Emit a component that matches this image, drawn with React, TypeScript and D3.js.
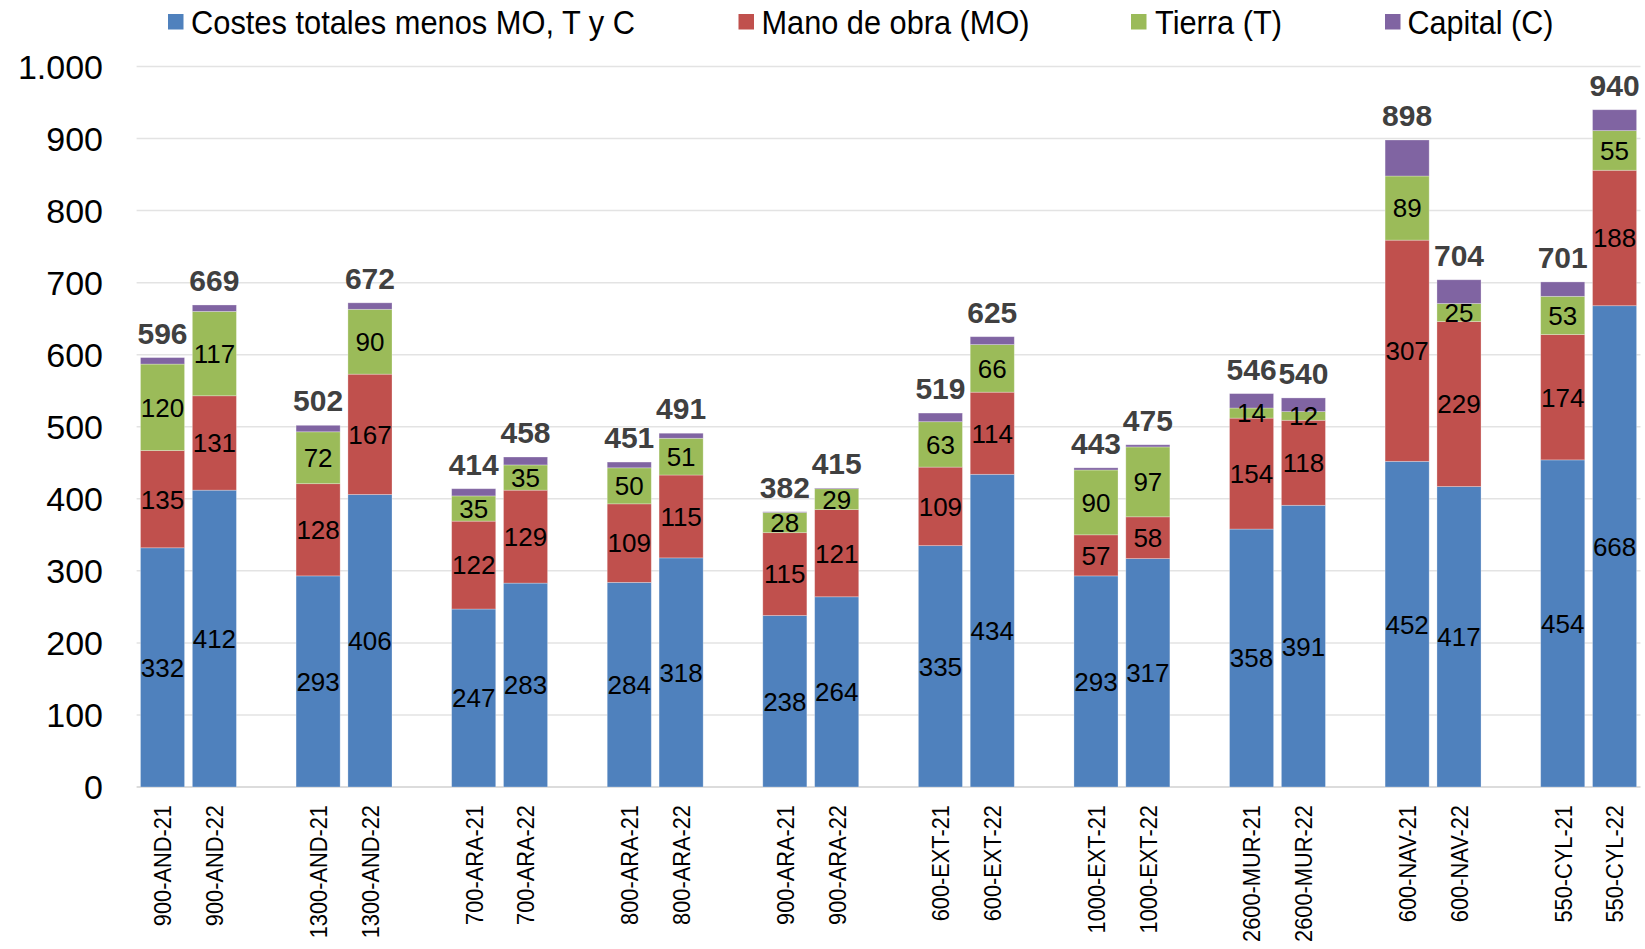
import React from "react";
import * as d3 from "d3";

const categories = [
  "900-AND-21", "900-AND-22", "1300-AND-21", "1300-AND-22",
  "700-ARA-21", "700-ARA-22", "800-ARA-21", "800-ARA-22",
  "900-ARA-21", "900-ARA-22", "600-EXT-21", "600-EXT-22",
  "1000-EXT-21", "1000-EXT-22", "2600-MUR-21", "2600-MUR-22",
  "600-NAV-21", "600-NAV-22", "550-CYL-21", "550-CYL-22",
];
const costes = [332, 412, 293, 406, 247, 283, 284, 318, 238, 264, 335, 434, 293, 317, 358, 391, 452, 417, 454, 668];
const manoObra = [135, 131, 128, 167, 122, 129, 109, 115, 115, 121, 109, 114, 57, 58, 154, 118, 307, 229, 174, 188];
const tierra = [120, 117, 72, 90, 35, 35, 50, 51, 28, 29, 63, 66, 90, 97, 14, 12, 89, 25, 53, 55];
const capital = [9, 9, 9, 9, 10, 11, 8, 7, 1, 1, 12, 11, 3, 3, 20, 19, 50, 33, 20, 29];
const totals = [596, 669, 502, 672, 414, 458, 451, 491, 382, 415, 519, 625, 443, 475, 546, 540, 898, 704, 701, 940];
const yTicks = [0, 100, 200, 300, 400, 500, 600, 700, 800, 900, 1000];

const seriesNames = ["Costes totales menos MO, T y C", "Mano de obra (MO)", "Tierra (T)", "Capital (C)"];
const seriesColors = ["#4F81BD", "#C0504D", "#9BBB59", "#8064A2"];
const seriesValues = [costes, manoObra, tierra, capital];
const showLabel = [true, true, true, false];

const W = 1645;
const H = 949;
const FONT = "'Liberation Sans', Arial, sans-serif";

const locale = d3.formatLocale({ decimal: ",", thousands: ".", grouping: [3], currency: ["", "€"] });
const fmt = locale.format(",d");

export default function App() {
  const left = 136.6;
  const right = 1640.5;
  const y0 = 787;
  const y1000 = 66.5;

  // 10 groups of 2 bars separated by an empty slot
  const slotOf = (i: number) => Math.floor(i / 2) * 3 + (i % 2);
  const nSlots = 29;
  const x = d3.scaleBand<number>().domain(d3.range(nSlots)).range([left, right]).paddingInner(0.15).paddingOuter(0.075);
  const y = d3.scaleLinear().domain([0, 1000]).range([y0, y1000]);

  const rows = categories.map((c, i) => {
    const r: any = { cat: c };
    seriesValues.forEach((s, k) => (r["s" + k] = s[i]));
    return r;
  });
  const stack = d3.stack<any>().keys(["s0", "s1", "s2", "s3"])(rows);

  const legendItems = [
    { sq: 168, tx: 191, w: 444 },
    { sq: 738.5, tx: 761.5, w: 268 },
    { sq: 1131, tx: 1155, w: 127 },
    { sq: 1385, tx: 1407.5, w: 146 },
  ];

  return (
    <svg width={W} height={H} style={{ position: "absolute", left: 0, top: 0, background: "#fff" }} fontFamily={FONT}>
      {/* gridlines */}
      {yTicks.map((t) => (
        <line key={t} x1={left} x2={right} y1={y(t)} y2={y(t)} stroke={t === 0 ? "#D0D0D0" : "#E3E3E3"} strokeWidth={1.5} />
      ))}
      {/* y labels */}
      {yTicks.map((t) => (
        <text key={"l" + t} x={103} y={y(t)} dy="0.36em" textAnchor="end" fontSize={34} fill="#000">
          {fmt(t)}
        </text>
      ))}
      {/* bars */}
      {stack.map((layer, k) => (
        <g key={k}>
          {layer.map((d, i) => (
            <rect
              key={i}
              x={x(slotOf(i))}
              width={x.bandwidth()}
              y={y(d[1])}
              height={y(d[0]) - y(d[1])}
              fill={seriesColors[k]}
              stroke="#ffffff"
              strokeOpacity={0.35}
              strokeWidth={0.8}
            />
          ))}
        </g>
      ))}
      {/* segment labels */}
      {stack.map((layer, k) =>
        showLabel[k]
          ? layer.map((d, i) => (
              <text
                key={k + "-" + i}
                x={(x(slotOf(i)) as number) + x.bandwidth() / 2}
                y={y((d[0] + d[1]) / 2)}
                dy="0.36em"
                textAnchor="middle"
                fontSize={26}
                fill="#000"
              >
                {seriesValues[k][i]}
              </text>
            ))
          : null
      )}
      {/* totals */}
      {totals.map((t, i) => (
        <text
          key={"t" + i}
          x={(x(slotOf(i)) as number) + x.bandwidth() / 2}
          y={y(t) - 14}
          textAnchor="middle"
          fontSize={30}
          fontWeight="bold"
          fill="#404040"
        >
          {t}
        </text>
      ))}
      {/* x labels */}
      {categories.map((c, i) => {
        const cx = (x(slotOf(i)) as number) + x.bandwidth() / 2;
        const ty = 805;
        return (
          <text
            key={"x" + c}
            transform={`translate(${cx},${ty}) rotate(-90) scale(0.89,1)`}
            textAnchor="end"
            dy="0.36em"
            fontSize={24.5}
            fill="#000"
          >
            {c}
          </text>
        );
      })}
      {/* legend */}
      {seriesNames.map((n, k) => (
        <g key={"lg" + k}>
          <rect x={legendItems[k].sq} y={14} width={15.5} height={15.5} fill={seriesColors[k]} />
          <text
            x={legendItems[k].tx}
            y={22}
            dy="0.36em"
            fontSize={34}
            fill="#000"
            textLength={legendItems[k].w}
            lengthAdjust="spacingAndGlyphs"
          >
            {n}
          </text>
        </g>
      ))}
    </svg>
  );
}
